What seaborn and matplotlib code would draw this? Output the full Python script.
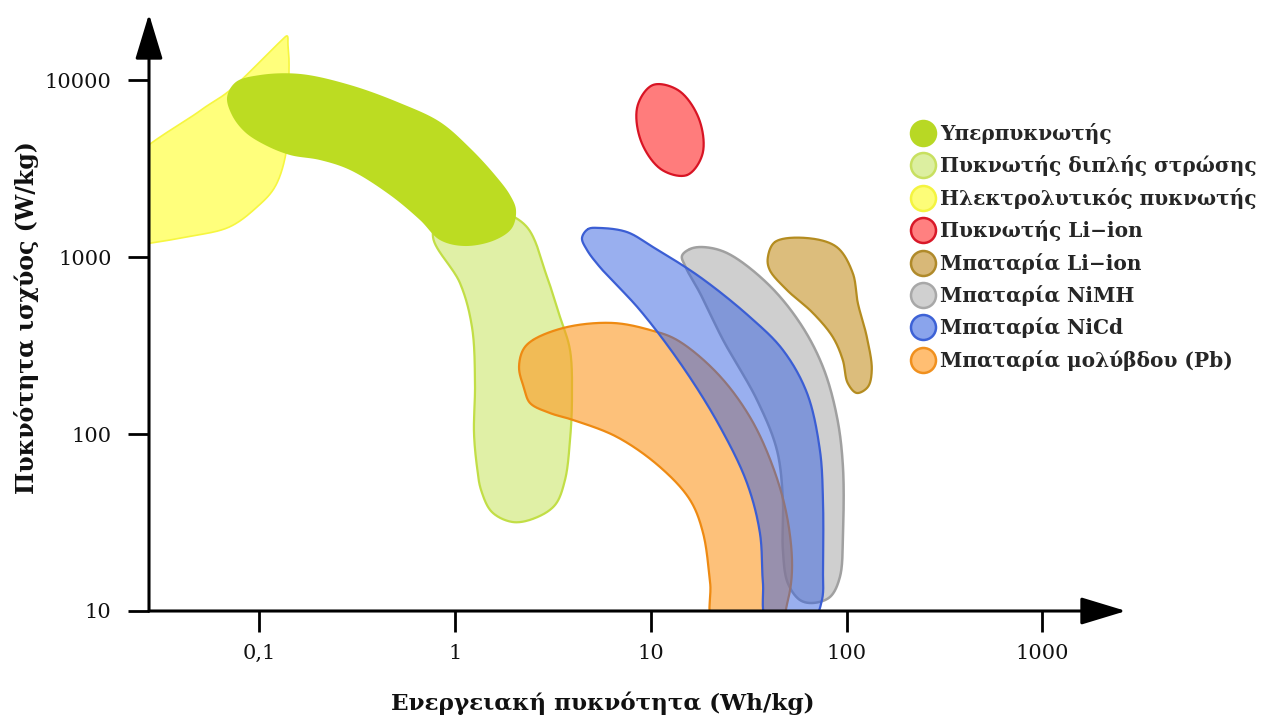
import numpy as np
import matplotlib
matplotlib.use("Agg")
import matplotlib.pyplot as plt
from matplotlib.lines import Line2D
import seaborn as sns

# ---------------- data (energy density Wh/kg, power density W/kg) ----------------
labels = ["Υπερπυκνωτής", "Πυκνωτής διπλής στρώσης", "Ηλεκτρολυτικός πυκνωτής",
          "Πυκνωτής Li−ion", "Μπαταρία Li−ion", "Μπαταρία NiMH",
          "Μπαταρία NiCd", "Μπαταρία μολύβδου (Pb)"]

x_ticks = [0.1, 1, 10, 100, 1000]
x_tick_labels = ["0,1", "1", "10", "100", "1000"]
y_ticks = [10, 100, 1000, 10000]
y_tick_labels = ["10", "100", "1000", "10000"]

# electrolytic capacitor outline
elec_e = [0.0194, 0.0497, 0.070, 0.1274, 0.1387, 0.140, 0.1417, 0.140, 0.1368, 0.120, 0.0972, 0.070, 0.0422,
          0.0276, 0.0194]
elec_p = [2904, 6700, 8670, 16410, 17740, 15780, 12980, 6775, 3873, 2485, 1915, 1475, 1297, 1199, 1154]

# supercapacitor outline
super_e = [0.0759, 0.1008, 0.1614, 0.2904, 0.5227, 0.8375, 1.191, 1.599, 1.908, 2.047, 1.953, 1.599, 1.124,
           0.8375, 0.662, 0.465, 0.2904, 0.204, 0.1435, 0.1069, 0.0844, 0.0724, 0.0684]
super_p = [9750, 10670, 10820, 9376, 7413, 5794, 4130, 2904, 2240, 1845, 1459, 1247, 1154,
           1247, 1618, 2240, 3103, 3532, 3770, 4295, 5082, 6343, 8017]

# double-layer capacitor outline
dl_e = [0.8375, 0.771, 1.059, 1.220, 1.264, 1.249, 1.294, 1.357, 1.544, 1.976, 2.560, 3.240, 3.644, 3.865,
        3.955, 3.865, 3.437, 2.950, 2.328, 1.656, 1.191]
dl_p = [1727, 1297, 713, 402, 194, 101.4, 65.1, 48.3, 36.2, 31.8, 33.5, 39.7, 55.0, 92.5,
        155.6, 298.3, 458, 771, 1477, 1845, 1968]

# Li-ion capacitor outline
licap_e = [15.31, 18.37, 17.63, 13.86, 10.26, 8.55, 8.91, 11.34]
licap_p = [2904, 3819, 6026, 8730, 9376, 7130, 4522, 3119]

# Li-ion battery outline
libat_e = [43.1, 62.7, 89.2, 107.6, 114.2, 127.0, 134.6, 128.5, 112.8, 101.4, 95.7, 85.1, 67.3, 49.6, 40.5, 39.6]
libat_p = [1216, 1280, 1138, 812, 550, 353, 230, 184.4, 170.5, 194, 262, 353, 483, 651, 845, 990]

# NiMH battery outline
nimh_e = [15.85, 18.47, 24.47, 39.2, 57.8, 75.8, 89.4, 95.9, 95.9, 92.5, 82.3, 67.3, 57.8, 50.1, 47.3, 47.3,
          44.1, 34.9, 23.4, 17.83, 15.14, 14.43]
nimh_p = [1109, 1138, 1054, 713, 424, 239, 124.7, 65.1, 27.6, 15.56, 12.0, 11.1, 11.54, 14.39, 22.1, 42.4,
          81.2, 155.6, 340, 626, 867, 1014]

# NiCd battery outline
nicd_e = [4.78, 5.49, 7.55, 10.26, 17.83, 32.1, 47.3, 62.8, 73.1, 75.8, 75.8, 74.9, 67.3, 39.3, 37.4, 36.1,
          31.0, 22.6, 14.59, 8.79, 5.49, 4.72, 4.45]
nicd_p = [1439, 1459, 1384, 1138, 771, 458, 298.3, 170.5, 81.2, 42.4, 17.7, 11.54, 9.0, 9.0, 14.39, 27.6,
          52.9, 109.6, 239, 502, 878, 1096, 1280]

# lead-acid battery outline
lead_e = [2.502, 3.731, 6.41, 9.91, 13.6, 21.8, 32.1, 42.1, 49.7, 52.7, 50.2, 45.0, 21.0, 20.1, 18.49,
          15.87, 11.14, 6.72, 4.01, 3.05, 2.415, 2.250, 2.122, 2.223]
lead_p = [340, 402, 424, 387, 340, 221, 124.7, 65.1, 34.0, 17.7, 11.54, 8.5, 8.5, 14.39, 27.6,
          42.4, 65.1, 96.2, 120, 131.4, 149.6, 182, 236, 298.3]

# ---------------- style ----------------
sns.set_theme(style="white")
plt.rcParams["font.family"] = ["DejaVu Serif"]

fig = plt.figure(figsize=(12.71, 7.20), dpi=100)
ax = fig.add_axes([149 / 1271, 109 / 720, 977 / 1271, 597 / 720])
ax.set_xscale("log")
ax.set_yscale("log")
ax.set_xlim(10 ** -1.564, 10 ** 3.428)
ax.set_ylim(10, 10 ** 4.373)


def smooth_closed(x, y, n=30, alpha=0.5):
    """Closed centripetal Catmull-Rom curve through the outline points (in log space)."""
    P = np.column_stack([np.log10(x) * 1.1, np.log10(y)])
    m = len(P)
    segs = []
    for i in range(m):
        p0, p1, p2, p3 = P[i - 1], P[i], P[(i + 1) % m], P[(i + 2) % m]
        t0 = 0.0
        t1 = t0 + max(np.linalg.norm(p1 - p0), 1e-6) ** alpha
        t2 = t1 + max(np.linalg.norm(p2 - p1), 1e-6) ** alpha
        t3 = t2 + max(np.linalg.norm(p3 - p2), 1e-6) ** alpha
        t = np.linspace(t1, t2, n, endpoint=False)[:, None]
        A1 = (t1 - t) / (t1 - t0) * p0 + (t - t0) / (t1 - t0) * p1
        A2 = (t2 - t) / (t2 - t1) * p1 + (t - t1) / (t2 - t1) * p2
        A3 = (t3 - t) / (t3 - t2) * p2 + (t - t2) / (t3 - t2) * p3
        B1 = (t2 - t) / (t2 - t0) * A1 + (t - t0) / (t2 - t0) * A2
        B2 = (t3 - t) / (t3 - t1) * A2 + (t - t1) / (t3 - t1) * A3
        C = (t2 - t) / (t2 - t1) * B1 + (t - t1) / (t2 - t1) * B2
        segs.append(C)
    out = np.vstack(segs + [segs[0][:1]])
    return 10 ** (out[:, 0] / 1.1), 10 ** out[:, 1]


shapes = [
    (elec_e, elec_p, "#ffff7c", 1.0, "#f6f640", 1.2),
    (dl_e, dl_p, "#e0f0a6", 1.0, "#c2de46", 1.6),
    (super_e, super_p, "#bcdc22", 1.0, None, 0),
    (licap_e, licap_p, "#ff7c7c", 1.0, "#d81424", 1.6),
    (libat_e, libat_p, "#dcbd7c", 1.0, "#b48c20", 1.6),
    (nimh_e, nimh_p, "#a9a9a9", 0.55, "#a0a0a0", 1.8),
    (lead_e, lead_p, "#fd9921", 0.6, "#ee8a12", 1.6),
    (nicd_e, nicd_p, "#3561e1", 0.5, "#3b5ed4", 1.6),
]

for i, (ex, py, fc, a, ec, lw) in enumerate(shapes):
    sx, sy = smooth_closed(ex, py)
    ax.fill(sx, sy, color=fc, alpha=a, lw=0, zorder=2 + i)
    if ec is not None:
        sns.lineplot(x=sx, y=sy, sort=False, estimator=None, color=ec, lw=lw, ax=ax,
                     zorder=2 + i, legend=False)

# ---------------- axes ----------------
for s in ax.spines.values():
    s.set_visible(False)
ax.minorticks_off()
ax.set_xticks(x_ticks)
ax.set_xticklabels(x_tick_labels)
ax.set_yticks(y_ticks)
ax.set_yticklabels(y_tick_labels)
ax.tick_params(axis="both", direction="out", length=15, width=2, color="black",
               labelsize=15, labelcolor="#111111", bottom=True, left=True)
ax.tick_params(axis="x", pad=9)
ax.tick_params(axis="y", pad=12)
ax.grid(False)

arrow = dict(arrowstyle="-|>,head_length=2.8,head_width=0.85", mutation_scale=10,
             lw=2.2, color="black", shrinkA=0, shrinkB=0)
ax.annotate("", xy=(1, 0), xytext=(0, 0), xycoords="axes fraction", arrowprops=arrow,
            annotation_clip=False, zorder=20)
ax.annotate("", xy=(0, 1), xytext=(0, 0), xycoords="axes fraction", arrowprops=arrow,
            annotation_clip=False, zorder=20)

ax.set_xlabel("Ενεργειακή πυκνότητα (Wh/kg)", fontsize=16.7, fontweight="bold", color="#111111")
ax.set_ylabel("Πυκνότητα ισχύος (W/kg)", fontsize=17, fontweight="bold", color="#111111")
ax.xaxis.set_label_coords((603 - 149) / 977, (611 - 703) / 597)
ax.xaxis.label.set_va("center")
ax.yaxis.set_label_coords((27 - 149) / 977, (611 - 318) / 597)
ax.yaxis.label.set_va("center")

# ---------------- legend ----------------
leg_face = ["#b8d824", "#dcefa0", "#fdfd78", "#ff8080", "#d8b878", "#d0d0d0", "#8aa4ec", "#ffbe72"]
leg_edge = ["#b8d824", "#c8e060", "#f4f440", "#d81828", "#b08a2a", "#a8a8a8", "#3d62d6", "#f0901e"]
handles = [Line2D([], [], marker="o", ls="", ms=18, mfc=f, mec=e, mew=1.8)
           for f, e in zip(leg_face, leg_edge)]
ax.legend(handles, labels, loc="upper left", bbox_to_anchor=(912 / 1271, 1 - 123 / 720),
          bbox_transform=fig.transFigure, frameon=False, handlelength=1.05,
          handletextpad=0.35, labelspacing=0.57, borderpad=0, borderaxespad=0,
          prop=dict(family="DejaVu Serif", weight="bold", size=14.5))

fig.savefig("out.png", dpi=100)
